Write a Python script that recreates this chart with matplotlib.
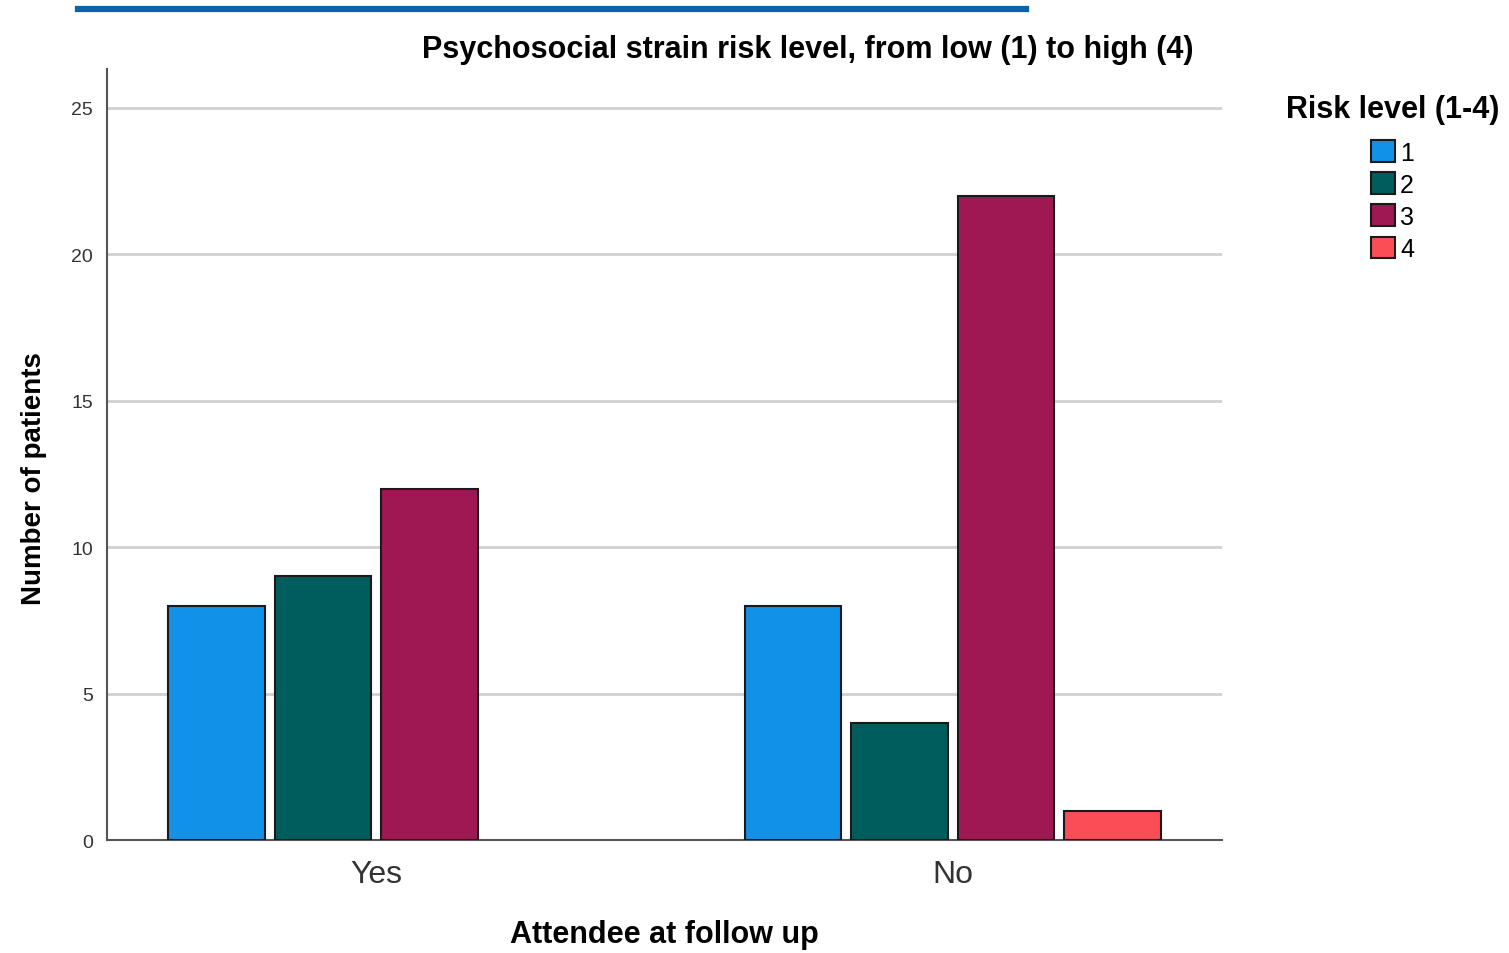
import numpy as np
import matplotlib
matplotlib.use("Agg")
import matplotlib.pyplot as plt
from matplotlib.lines import Line2D

plt.rcParams['font.family'] = ['Liberation Sans', 'DejaVu Sans']

# counts of patients per risk level, by attendance at follow up
groups = ["Yes", "No"]
levels = ["1", "2", "3", "4"]
counts = {
    "1": [8, 8],
    "2": [9, 4],
    "3": [12, 22],
    "4": [0, 1],
}
colors = ["#1192e8", "#005d5d", "#9f1853", "#fa4d56"]

fig = plt.figure(figsize=(15.09, 9.54), dpi=100)
ax = fig.add_axes([0.0709, 0.1184, 0.7389, 0.8082])

x = np.arange(len(groups))
step = 0.1847
width = 0.168
for i, lev in enumerate(levels):
    vals = np.array(counts[lev], dtype=float)
    offs = (i - 1.5) * step
    mask = vals > 0
    ax.bar(x[mask] + offs, vals[mask], width, color=colors[i],
           edgecolor="#1a1a1a", linewidth=1.5, zorder=3, label=lev)

ax.set_xlim(-0.467, 1.467)
ax.set_ylim(0, 26.33)
ax.set_yticks([0, 5, 10, 15, 20, 25])
ax.set_xticks(x)
ax.set_xticklabels(groups, fontsize=23, color="#333333")
ax.tick_params(axis="y", length=0, pad=10, labelsize=14, labelcolor="#333333")
ax.tick_params(axis="x", length=0, pad=14)
ax.grid(axis="y", color="#d0d0d0", linewidth=2, zorder=0)
for s in ["top", "right"]:
    ax.spines[s].set_visible(False)
for s in ["left", "bottom"]:
    ax.spines[s].set_color("#555555")
    ax.spines[s].set_linewidth(1.5)

ax.set_xlabel("Attendee at follow up", fontsize=22, fontweight="bold")
ax.xaxis.set_label_coords(0.5, -0.103)
ax.set_ylabel("Number of patients", fontsize=20, fontweight="bold")
ax.yaxis.set_label_coords(-0.054, 0.47)

fig.text(0.5355, 0.948, "Psychosocial strain risk level, from low (1) to high (4)",
         ha="center", va="center", fontsize=22, fontweight="bold")

# cropped blue underline at the very top of the source image
fig.add_artist(Line2D([0.052, 0.68], [0.9895, 0.9895], color="#0a64ad",
                      linewidth=4.5, transform=fig.transFigure))

leg = ax.legend(title="Risk level (1-4)", loc="upper center",
                bbox_to_anchor=(0.923, 0.914), bbox_transform=fig.transFigure,
                frameon=False, fontsize=18, handlelength=0.95, handleheight=0.95,
                labelspacing=0.31, handletextpad=0.2, borderpad=0)
leg.get_title().set_fontsize(22)
leg.get_title().set_fontweight("bold")
leg._legend_box.sep = 12

fig.savefig("out.png", dpi=100)
